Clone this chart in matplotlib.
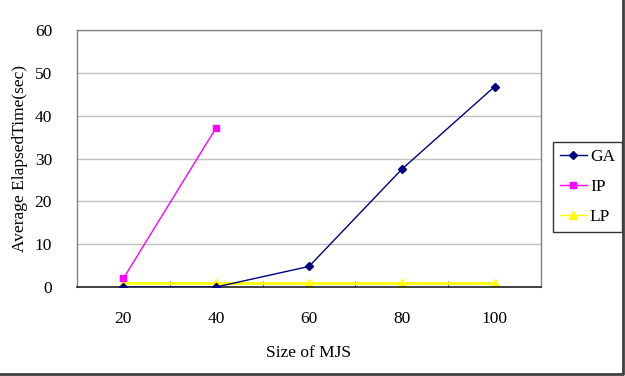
import matplotlib
matplotlib.use("Agg")
import matplotlib.pyplot as plt
from matplotlib.lines import Line2D

categories = ["20", "40", "60", "80", "100"]
ga = [0, 0, 4.8, 27.5, 46.8]
ip = [2.0, 37.2]
lp = [1.0, 1.0, 1.0, 1.0, 1.0]
yticks = [0, 10, 20, 30, 40, 50, 60]

plt.rcParams['font.family'] = ['Liberation Serif', 'DejaVu Serif']

fig = plt.figure(figsize=(6.25, 3.76), dpi=100)
ax = fig.add_axes([0.1232, 0.2367, 0.7424, 0.6833])

x = list(range(len(categories)))
ax.plot(x, ga, color='#000080', marker='D', markersize=4.5, lw=1.0, label='GA', zorder=4)
ax.plot(x[:len(ip)], ip, color='#FF00FF', marker='s', markersize=5, lw=1.0, label='IP', zorder=3)
ax.plot(x, lp, color='#FFFF00', marker='^', markersize=6, lw=2.0, label='LP', zorder=2)

ax.set_xlim(-0.5, len(categories) - 0.5)
ax.set_ylim(0, 60)
ax.set_yticks(yticks)
ax.set_xticks(x)
ax.set_xticklabels(categories)
ax.set_xticks([i + 0.5 for i in range(len(categories) - 1)], minor=True)
ax.tick_params(axis='x', which='major', length=0, pad=17, labelsize=12.5)
ax.tick_params(axis='x', which='minor', length=4, direction='in', color='#404040')
ax.tick_params(axis='y', which='major', length=0, labelsize=12.5, pad=18)
ax.grid(axis='y', color='#C0C0C0', lw=1.0)
ax.set_axisbelow(True)
for s in ['top', 'right', 'left']:
    ax.spines[s].set_color('#808080')
    ax.spines[s].set_linewidth(1.0)
ax.spines['bottom'].set_color('#202020')
ax.spines['bottom'].set_linewidth(1.2)

ax.set_xlabel('Size of MJS', fontsize=12.5, labelpad=13)
ax.set_ylabel('Average ElapsedTime(sec)', fontsize=12.5, labelpad=5)

leg = ax.legend(loc='center left', bbox_to_anchor=(1.025, 0.39), frameon=True, fancybox=False,
                edgecolor='black', fontsize=12.5, handlelength=1.6, borderpad=0.4,
                labelspacing=0.8, handletextpad=0.15, borderaxespad=0, markerscale=0.85)
leg.get_frame().set_linewidth(1.0)
for h in leg.get_lines():
    h.set_linewidth(1.0)

fig.add_artist(Line2D([0, 0.997, 0.997], [0.004, 0.004, 1.0], transform=fig.transFigure,
                      color='#404040', lw=2))

fig.savefig('out.png', dpi=100)
